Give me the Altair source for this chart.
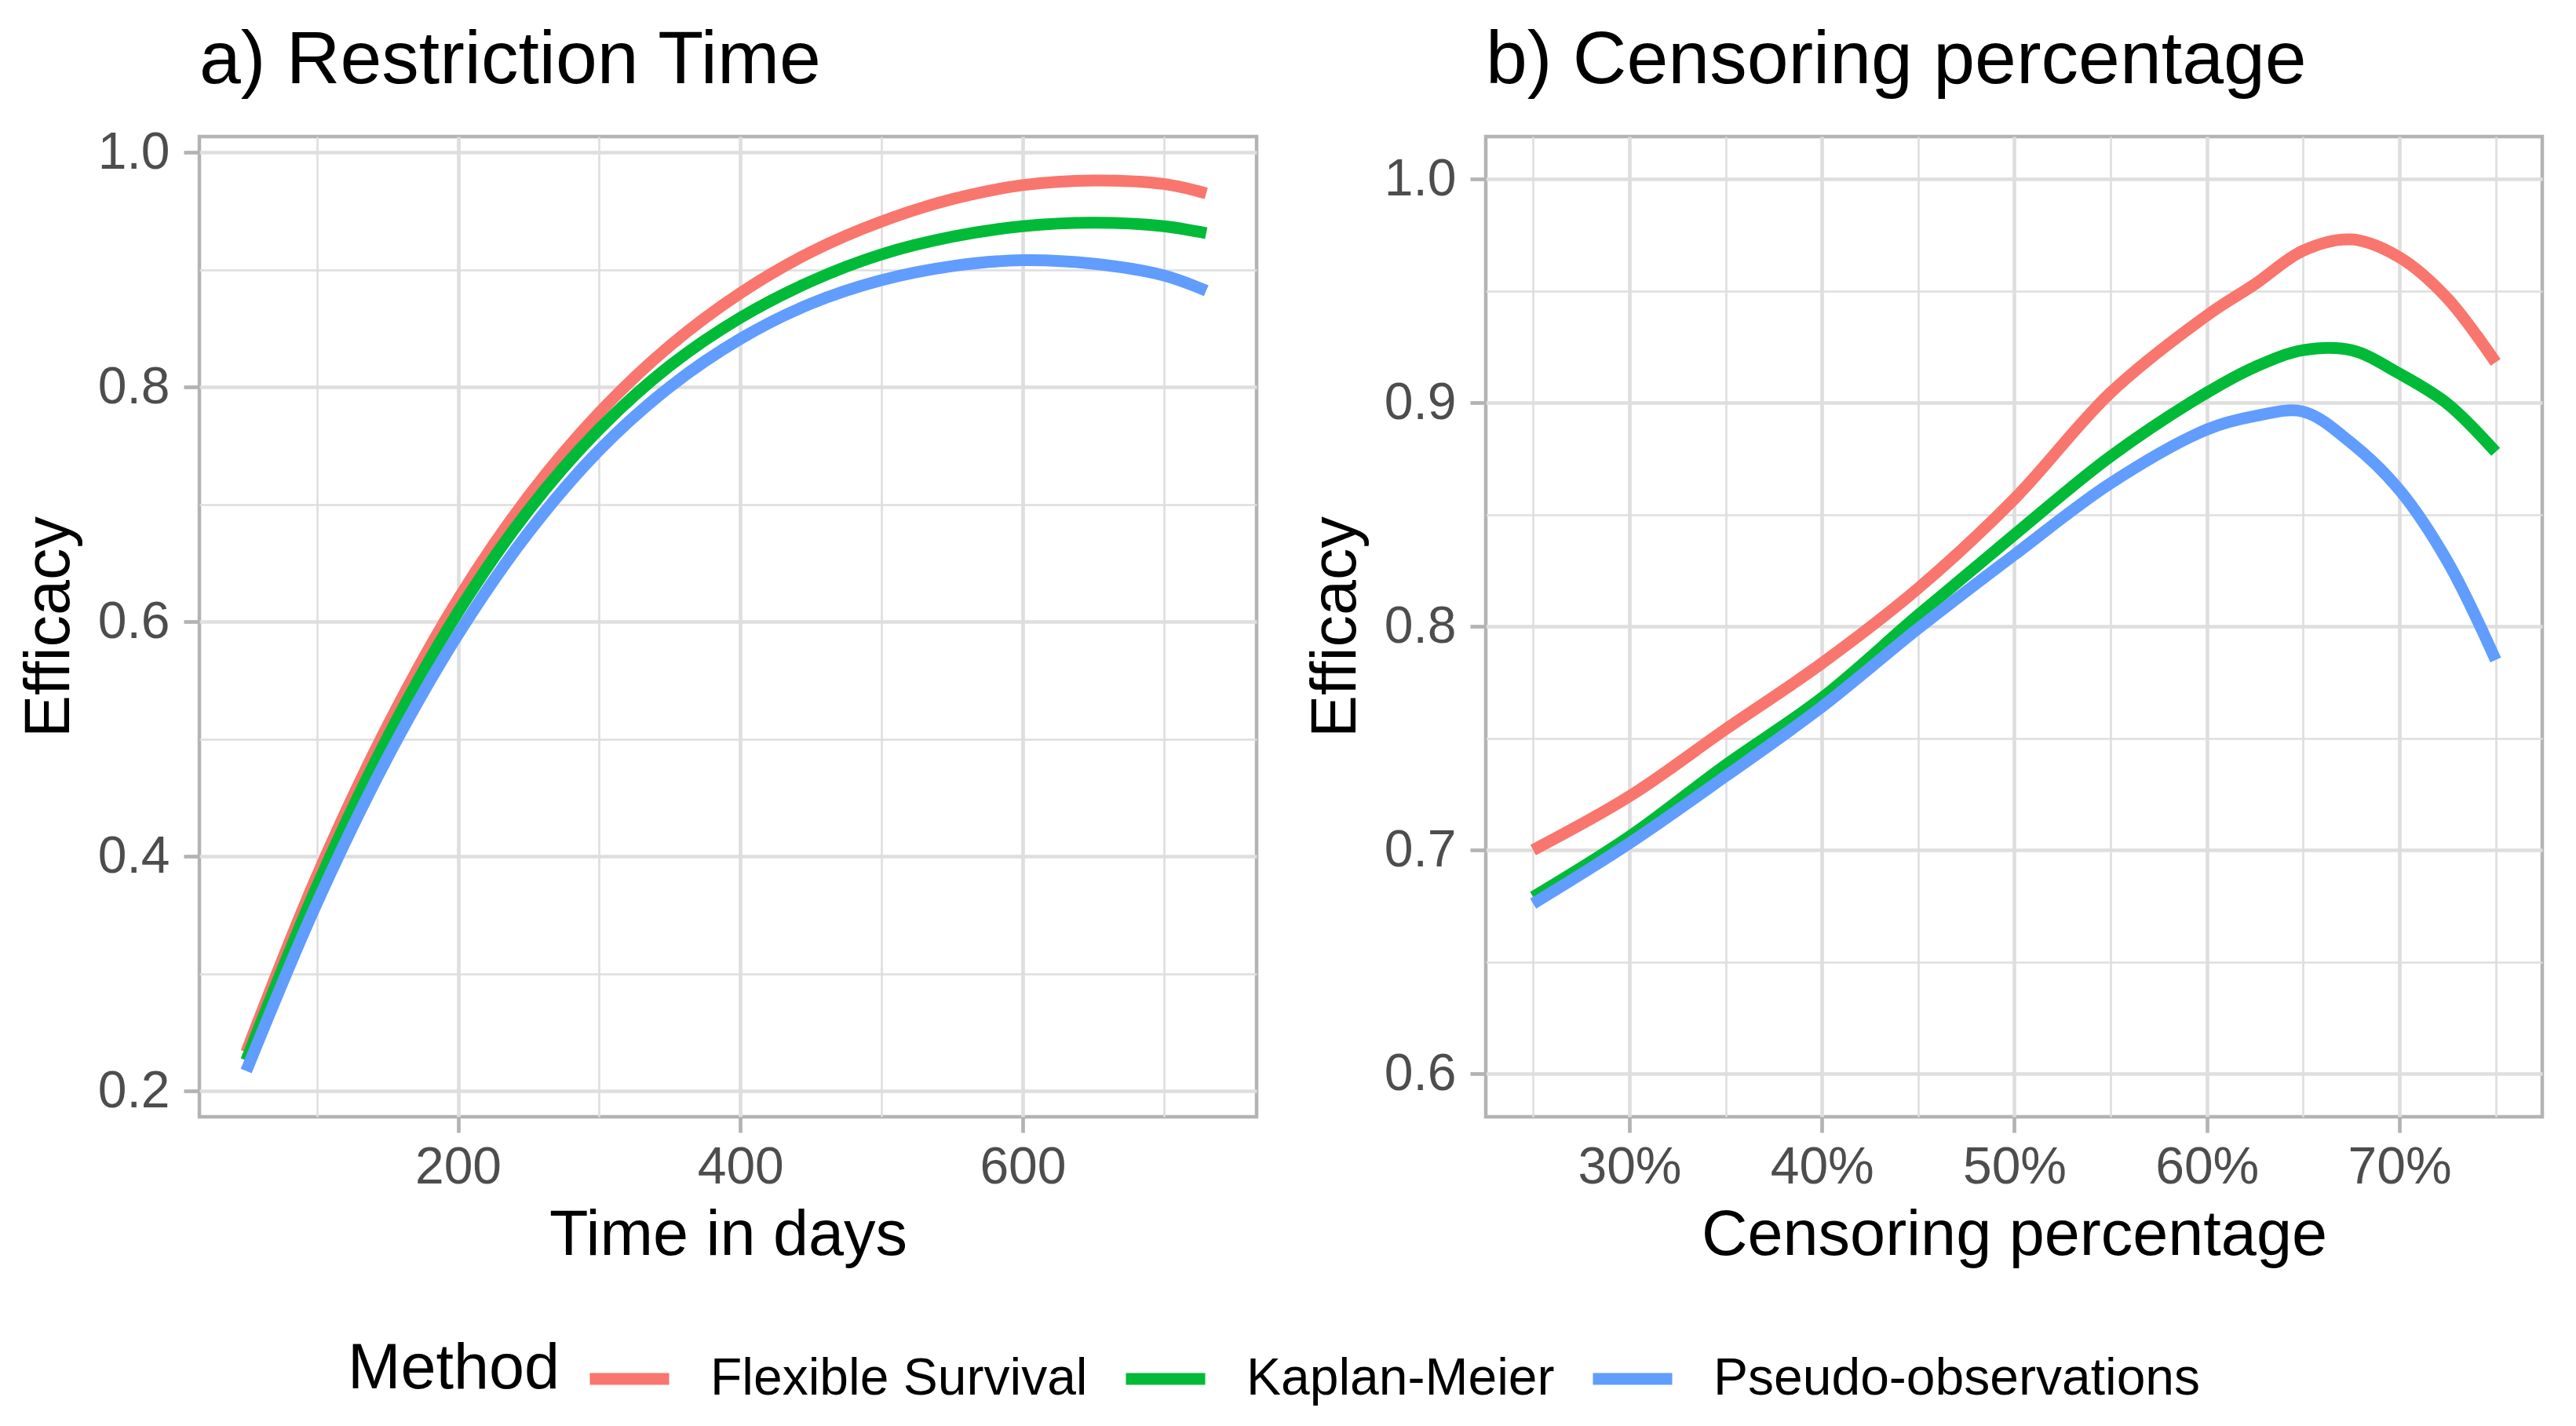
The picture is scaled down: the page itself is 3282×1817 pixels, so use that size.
import altair as alt
import pandas as pd

FONT = "Liberation Sans"
methods = ["Flexible Survival", "Kaplan-Meier", "Pseudo-observations"]
colors = ["#F8766D", "#00BA38", "#619CFF"]

# Panel a: restriction time (days)
time_days = [50, 100, 150, 200, 250, 300, 350, 400, 450, 500, 550, 600, 650, 700, 730]
eff_a_flex = [0.233, 0.383, 0.511, 0.619, 0.707, 0.778, 0.835, 0.880, 0.915, 0.941, 0.960, 0.972, 0.976, 0.973, 0.965]
eff_a_km = [0.226, 0.374, 0.501, 0.608, 0.695, 0.764, 0.818, 0.859, 0.890, 0.913, 0.928, 0.937, 0.940, 0.937, 0.931]
eff_a_po = [0.217, 0.360, 0.484, 0.589, 0.676, 0.746, 0.800, 0.841, 0.871, 0.891, 0.903, 0.908, 0.905, 0.895, 0.882]

# Panel b: censoring percentage
cens_pct = [0.25, 0.30, 0.35, 0.40, 0.45, 0.50, 0.55, 0.60, 0.625, 0.65, 0.675, 0.70, 0.725, 0.75]
eff_b_flex = [0.700, 0.724, 0.754, 0.7835, 0.817, 0.857, 0.9045, 0.939, 0.953, 0.968, 0.973, 0.965, 0.9466, 0.918]
eff_b_km = [0.679, 0.706, 0.738, 0.768, 0.805, 0.841, 0.876, 0.9045, 0.916, 0.9235, 0.9235, 0.913, 0.8995, 0.878]
eff_b_po = [0.676, 0.703, 0.733, 0.764, 0.799, 0.832, 0.864, 0.888, 0.894, 0.896, 0.882, 0.861, 0.829, 0.785]


def long_df(xs, series):
    rows = []
    for m, ys in zip(methods, series):
        for x, y in zip(xs, ys):
            rows.append({"x": x, "y": y, "Method": m})
    return pd.DataFrame(rows)


df_a = long_df(time_days, [eff_a_flex, eff_a_km, eff_a_po])
df_b = long_df(cens_pct, [eff_b_flex, eff_b_km, eff_b_po])

GRID = "#DEDEDE"
color_enc = alt.Color("Method:N", scale=alt.Scale(domain=methods, range=colors),
                      legend=alt.Legend(title="Method", titleOrient="left", titleAnchor="middle",
                                        titleBaseline="middle"))


def panel(df, title, xtitle, xdomain, xmajor, xminor, xfmt, ydomain, ymajor, yminor, width, toff):
    xs = alt.Scale(domain=xdomain, nice=False, zero=False)
    ys = alt.Scale(domain=ydomain, nice=False, zero=False)
    minor = alt.Chart(df).mark_line(strokeOpacity=0).encode(
        x=alt.X("x:Q", scale=xs, axis=alt.Axis(values=xminor, labels=False, ticks=False, domain=False,
                                                title=None, grid=True, gridWidth=2.6, gridColor=GRID,
                                                orient="bottom")),
        y=alt.Y("y:Q", scale=ys, axis=alt.Axis(values=yminor, labels=False, ticks=False, domain=False,
                                                title=None, grid=True, gridWidth=2.6, gridColor=GRID,
                                                orient="left")),
        detail="Method:N",
    )
    main = alt.Chart(df).mark_line(strokeWidth=15, interpolate="catmull-rom").encode(
        x=alt.X("x:Q", scale=xs, title=xtitle,
                axis=alt.Axis(values=xmajor, format=xfmt, orient="bottom", grid=True)),
        y=alt.Y("y:Q", scale=ys, title="Efficacy",
                axis=alt.Axis(values=ymajor, format=".1f", orient="left", grid=True)),
        color=color_enc,
    )
    return alt.layer(minor, main).resolve_axis(x="independent", y="independent").properties(
        width=width, height=1249,
        title=alt.TitleParams(title, anchor="start", frame="group", fontSize=95, font=FONT,
                              fontWeight="normal", color="black", baseline="bottom", offset=toff),
    )


pa = panel(df_a, "a) Restriction Time", "Time in days", [16.8, 765.7], [200, 400, 600],
           [100, 300, 500, 700], "d", [0.178, 1.0134], [0.2, 0.4, 0.6, 0.8, 1.0],
           [0.3, 0.5, 0.7, 0.9], 1347, -60)
pb = panel(df_b, "b) Censoring percentage", "Censoring percentage", [0.2254, 0.7742],
           [0.3, 0.4, 0.5, 0.6, 0.7], [0.25, 0.35, 0.45, 0.55, 0.65, 0.75], ".0%",
           [0.5807, 1.019], [0.6, 0.7, 0.8, 0.9, 1.0], [0.65, 0.75, 0.85, 0.95], 1346, -47)

chart = alt.hconcat(pa, pb, spacing=55).properties(
    padding={"left": 12, "top": 19, "right": 10, "bottom": 10}
).configure_view(
    stroke="#B3B3B3", strokeWidth=4.5
).configure_axis(
    labelFont=FONT, titleFont=FONT, labelFontSize=66, titleFontSize=81, labelColor="#4D4D4D",
    titleColor="black", titleFontWeight="normal", gridColor=GRID, gridWidth=4.7,
    tickColor="#B3B3B3", tickWidth=4.7, tickSize=20, domain=False, labelPadding=18,
    titlePadding=20
).configure_axisX(
    labelPadding=12, titlePadding=14
).configure_legend(
    orient="none", legendX=189, legendY=1525, direction="horizontal",
    symbolType="stroke", symbolSize=10201, symbolStrokeWidth=15, labelFont=FONT, titleFont=FONT,
    labelFontSize=66, titleFontSize=81, titleFontWeight="normal", titleColor="black",
    labelColor="black", labelOffset=45, columnPadding=18, titlePadding=30, labelLimit=1000,
    titleLimit=1000
)

chart.save("out.html", embed_options={"renderer": "svg", "actions": False})
